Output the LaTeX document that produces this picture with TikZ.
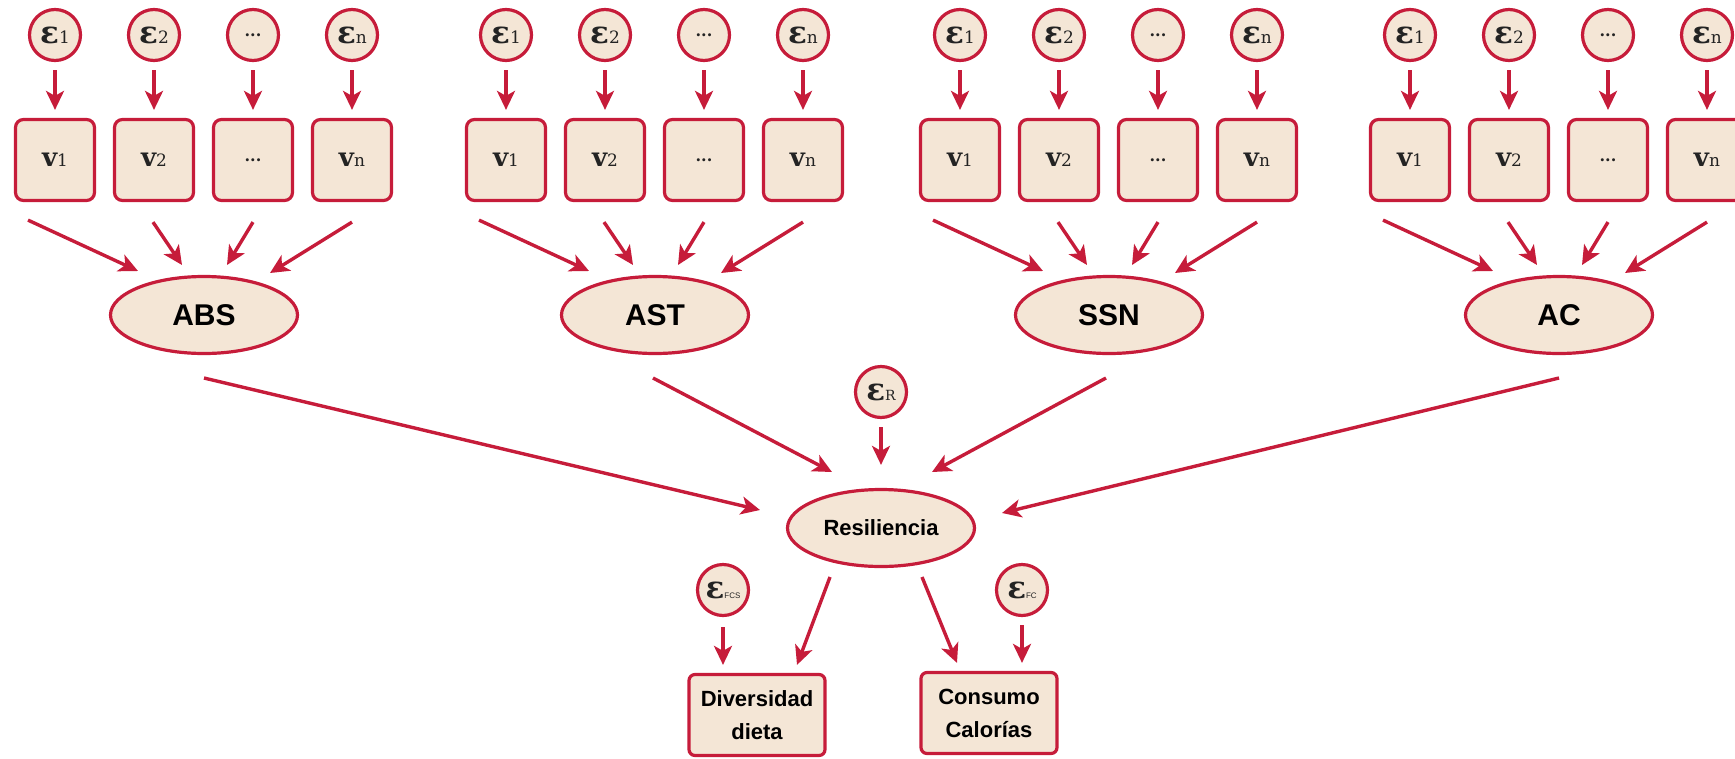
\documentclass[tikz,border=0pt]{standalone}
\usepackage{fontspec}
\setsansfont{Liberation Sans}
\newfontfamily\serfont{DejaVu Serif}
\usetikzlibrary{shapes.geometric,arrows.meta,calc}
\definecolor{rd}{RGB}{198,28,58}
\definecolor{bg}{RGB}{244,230,214}
\definecolor{tx}{RGB}{35,35,35}
\newcommand\epsv[1]{{\serfont\bfseries\fontsize{31}{31}\selectfont ε}{\serfont\fontsize{17}{17}\selectfont #1}}
\newcommand\epss[1]{{\serfont\bfseries\fontsize{31}{31}\selectfont ε}{\sffamily\fontsize{8}{8}\selectfont #1}}
\newcommand\vvar[1]{{\serfont\bfseries\fontsize{26}{26}\selectfont v}{\serfont\fontsize{17}{17}\selectfont #1}}
\newcommand\ddd{{\serfont\bfseries\fontsize{16}{16}\selectfont ...}}
\begin{document}
\begin{tikzpicture}[x=1pt,y=-1pt,
 err/.style={circle,draw=rd,fill=bg,line width=3.2pt,minimum size=51pt,inner sep=0pt,text=tx},
 obs/.style={rectangle,rounded corners=8pt,draw=rd,fill=bg,line width=3.2pt,minimum width=79pt,minimum height=81pt,inner sep=0pt,text=tx},
 lat/.style={ellipse,draw=rd,fill=bg,line width=3.2pt,minimum width=187pt,minimum height=77pt,inner sep=0pt,font=\sffamily\bfseries\fontsize{30}{30}\selectfont},
 outbox/.style={rectangle,rounded corners=6pt,draw=rd,fill=bg,line width=3.2pt,minimum width=136pt,minimum height=81pt,inner sep=0pt,align=center,font=\sffamily\bfseries\fontsize{22}{33}\selectfont},
 arr/.style={draw=rd,line width=3.4pt,-{Stealth[length=19pt,width=18pt,inset=5pt]}},
]
\useasboundingbox (0,0) rectangle (1735,758);

\foreach \X/\lab/\nm in {55/ABS/A, 506/AST/B, 960/SSN/C, 1410/AC/D} {
  \node[err] (\nm e1) at (\X,35) {\epsv{1}};
  \node[err] (\nm e2) at (\X+99,35) {\epsv{2}};
  \node[err] (\nm e3) at (\X+198,35) {\ddd};
  \node[err] (\nm e4) at (\X+297,35) {\epsv{n}};
  \node[obs] (\nm v1) at (\X,160) {\vvar{1}};
  \node[obs] (\nm v2) at (\X+99,160) {\vvar{2}};
  \node[obs] (\nm v3) at (\X+198,160) {\ddd};
  \node[obs] (\nm v4) at (\X+297,160) {\vvar{n}};
  \node[lat] (\nm L) at (\X+149,315) {\lab};
  \foreach \k in {1,2,3,4} {
    \draw[arr, shorten <=8pt, shorten >=8pt] (\nm e\k) -- (\nm v\k);
  }
  \draw[arr] ($(\nm v1.south)+(-27,18)$) -- ($(\nm L.center)+(-66,-44)$);
  \draw[arr] ($(\nm v2.south)+(-1,20)$) -- ($(\nm L.center)+(-22,-50)$);
  \draw[arr] ($(\nm v3.south)+(0,20)$) -- ($(\nm L.center)+(23,-50)$);
  \draw[arr] ($(\nm v4.south)+(0,20)$) -- ($(\nm L.center)+(66,-42)$);
}

\node[lat, font=\sffamily\bfseries\fontsize{22}{22}\selectfont] (Res) at (881,528) {Resiliencia};
\node[err] (eR) at (881,392) {\epsv{\fontsize{14}{14}\selectfont R}};
\draw[arr, shorten <=8pt, shorten >=23pt] (eR) -- (Res);

\draw[arr] ($(AL.center)+(0,63)$) -- ($(Res.center)+(-121,-18)$);
\draw[arr] ($(BL.center)+(-2,63)$) -- ($(Res.center)+(-49,-56)$);
\draw[arr] ($(CL.center)+(-3,63)$) -- ($(Res.center)+(51,-56)$);
\draw[arr] ($(DL.center)+(0,63)$) -- ($(Res.center)+(121,-15)$);

\node[outbox] (Div) at (757,715) {Diversidad\\dieta};
\node[outbox] (Con) at (989,713) {Consumo\\Calorías};
\node[err] (eF1) at (723,590) {\epss{FCS}};
\node[err] (eF2) at (1022,590) {\epss{FC}};

\draw[arr] ($(eF1.south)+(0,10)$) -- ($(eF1.south |- Div.north)+(0,-8)$);
\draw[arr] ($(eF2.south)+(0,8)$) -- ($(eF2.south |- Con.north)+(0,-8)$);
\draw[arr] ($(Res.center)+(-51,49)$) -- ($(Div.north)+(40,-8)$);
\draw[arr] ($(Res.center)+(41,49)$) -- ($(Con.north)+(-32,-8)$);
\end{tikzpicture}
\end{document}
